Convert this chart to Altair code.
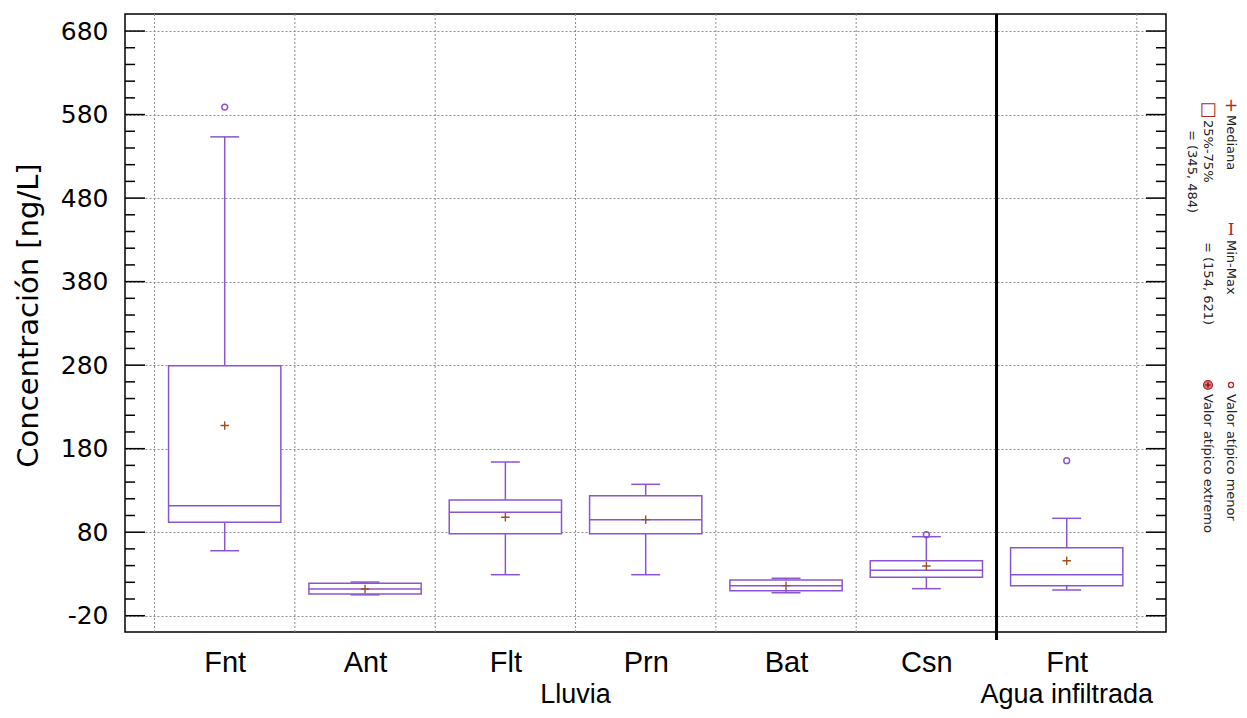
import altair as alt
import pandas as pd

# ---------------- data ----------------
categories = ["Fnt", "Ant", "Flt", "Prn", "Bat", "Csn", "Fnt"]
groups = ["Lluvia", "Lluvia", "Lluvia", "Lluvia", "Lluvia", "Lluvia", "Agua infiltrada"]
positions = [1, 2, 3, 4, 5, 6, 7]
minimum = [57.8, 5.0, 29.1, 29.1, 7.5, 12.4, 10.8]
q1 = [92.0, 6.0, 78.2, 78.2, 10.0, 26.0, 15.9]
median = [111.8, 12.0, 103.8, 95.0, 16.0, 34.3, 29.1]
q3 = [279.2, 19.0, 118.5, 123.7, 22.7, 45.8, 61.4]
maximum = [553.3, 20.3, 164.0, 137.3, 24.8, 74.6, 96.6]
mean = [207.8, 12.0, 97.8, 95.0, 16.0, 39.5, 45.8]
outlier_pos = [1, 6, 7]
outlier_val = [589.0, 77.0, 165.6]

major_ticks = [-20, 80, 180, 280, 380, 480, 580, 680]
minor_ticks = [v for v in range(0, 700, 20) if v not in major_ticks]
gridlines_x = [0.5, 1.5, 2.5, 3.5, 4.5, 5.5, 7.5]
group_boundary = [6.5]

# ---------------- styles / layout ----------------
W, H = 1041, 618
PURPLE = "#8a55d2"
BROWN = "#a0501e"
DARKRED = "#b02828"
GRID = "#8c8c8c"

df = pd.DataFrame({
    "pos": positions, "cat": categories, "group": groups,
    "min": minimum, "q1": q1, "median": median, "q3": q3, "max": maximum, "mean": mean,
})
df_out = pd.DataFrame({"pos": outlier_pos, "val": outlier_val})

x_scale = alt.Scale(domain=[0.2895, 7.7076], nice=False, zero=False)
y_scale = alt.Scale(domain=[-39.5, 700.4], nice=False, zero=False)

label_expr = "[" + ",".join("'%s'" % c for c in categories) + "][datum.value - 1]"
x_axis = alt.Axis(values=positions, labelExpr=label_expr, ticks=False, domain=False, grid=False,
                  title=None, labelFont="Liberation Sans", labelFontSize=29, labelColor="black",
                  labelPadding=16, labelBaseline="top")
y_axis = alt.Axis(values=major_ticks, labelExpr="'' + datum.value", ticks=False, domain=False,
                  grid=True, gridColor=GRID, gridDash=[2, 2], gridWidth=1,
                  labelFont="DejaVu Sans", labelFontSize=25, labelColor="black", labelPadding=17,
                  title="Concentración [ng/L]", titleFont="DejaVu Sans", titleFontSize=29,
                  titleFontWeight="normal", titleColor="black", titleX=-97, titleY=301,
                  titleAngle=-90, titleAlign="center", titleBaseline="middle")


def X(f):
    return alt.X(f, type="quantitative", scale=x_scale, axis=x_axis)


def Y(f):
    return alt.Y(f, type="quantitative", scale=y_scale, axis=y_axis)


base = alt.Chart(df).transform_calculate(
    lo="datum.pos - 0.4", hi="datum.pos + 0.4",
    clo="datum.pos - 0.103", chi="datum.pos + 0.103")

vgrid = alt.Chart(pd.DataFrame({"g": gridlines_x})).mark_rule(
    color=GRID, strokeDash=[2, 2], strokeWidth=1).encode(
    x=X("g"), y=alt.value(0), y2=alt.value(H))

boundary = alt.Chart(pd.DataFrame({"b": group_boundary})).mark_rule(
    color="black", strokeWidth=3).encode(x=X("b"), y=alt.value(0), y2=alt.value(H + 8))

whisk_hi = base.mark_rule(color=PURPLE, strokeWidth=1.5).encode(x=X("pos"), y=Y("q3"), y2="max:Q")
whisk_lo = base.mark_rule(color=PURPLE, strokeWidth=1.5).encode(x=X("pos"), y=Y("min"), y2="q1:Q")
cap_hi = base.mark_rule(color=PURPLE, strokeWidth=1.5).encode(x=X("clo"), x2="chi:Q", y=Y("max"))
cap_lo = base.mark_rule(color=PURPLE, strokeWidth=1.5).encode(x=X("clo"), x2="chi:Q", y=Y("min"))
boxes = base.mark_rect(fill="white", stroke=PURPLE, strokeWidth=1.5).encode(
    x=X("lo"), x2="hi:Q", y=Y("q1"), y2="q3:Q")
med = base.mark_rule(color=PURPLE, strokeWidth=1.5).encode(x=X("lo"), x2="hi:Q", y=Y("median"))
means = base.mark_point(shape="M-1,0H1M0,-1V1", filled=False, stroke=BROWN, strokeWidth=1.4,
                        size=72, opacity=1).encode(x=X("pos"), y=Y("mean"))
outl = alt.Chart(df_out).mark_point(shape="circle", filled=False, stroke=PURPLE, strokeWidth=1.5,
                                    size=34, opacity=1).encode(x=X("pos"), y=Y("val"))

ticks_df_major = pd.DataFrame({"t": major_ticks})
ticks_df_minor = pd.DataFrame({"t": minor_ticks})
tick_layers = []
for tdf, ln in ((ticks_df_major, 20), (ticks_df_minor, 10)):
    tick_layers.append(alt.Chart(tdf).mark_rule(color="black", strokeWidth=1.5).encode(
        y=Y("t"), x=alt.value(0), x2=alt.value(ln)))
    tick_layers.append(alt.Chart(tdf).mark_rule(color="black", strokeWidth=1.5).encode(
        y=Y("t"), x=alt.value(W - ln), x2=alt.value(W)))

group_labels = base.transform_aggregate(center="mean(pos)", groupby=["group"]).mark_text(
    font="Liberation Sans", fontSize=27, baseline="top", color="black").encode(
    x=X("center"), y=alt.value(H + 50), text="group:N")

# ---------------- legend (rotated, right of the plot) ----------------
C1, C2, C3 = 1106, 1083, 1067
legend_texts = [
    ("Mediana", C1, 101),
    ("25%-75%", C2, 106),
    ("= (345, 484)", C3, 116),
    ("Min-Max", C1, 226),
    ("= (154, 621)", C2, 228),
    ("Valor atípico menor", C1, 380),
    ("Valor atípico extremo", C2, 380),
]
legend_layers = []
for txt, lx, ly in legend_texts:
    legend_layers.append(alt.Chart(pd.DataFrame({"t": [txt]})).mark_text(
        angle=90, align="left", baseline="middle", font="DejaVu Sans", fontSize=13,
        color="#222222").encode(text="t:N", x=alt.value(lx), y=alt.value(ly)))

legend_layers.append(alt.Chart(pd.DataFrame({"t": ["+"]})).mark_text(
    align="center", baseline="middle", font="DejaVu Sans", fontSize=17, color=DARKRED
).encode(text="t:N", x=alt.value(C1), y=alt.value(92)))
legend_layers.append(alt.Chart(pd.DataFrame({"t": ["\u25a1"]})).mark_text(
    align="center", baseline="middle", font="DejaVu Sans", fontSize=18, color=DARKRED
).encode(text="t:N", x=alt.value(C2), y=alt.value(96)))
legend_layers.append(alt.Chart(pd.DataFrame({"t": ["I"]})).mark_text(
    align="center", baseline="middle", font="DejaVu Serif", fontSize=17, color=DARKRED
).encode(text="t:N", x=alt.value(C1), y=alt.value(216)))
legend_layers.append(alt.Chart(pd.DataFrame({"t": [0]})).mark_point(
    shape="circle", filled=False, stroke=DARKRED, strokeWidth=1.3, size=26, opacity=1
).encode(x=alt.value(C1), y=alt.value(371)))
legend_layers.append(alt.Chart(pd.DataFrame({"t": [0]})).mark_point(
    shape="circle", filled=True, fill="#e07a7a", stroke=DARKRED, strokeWidth=1.2, size=80, opacity=1
).encode(x=alt.value(C2), y=alt.value(371)))
legend_layers.append(alt.Chart(pd.DataFrame({"t": [0]})).mark_point(
    shape="M-1,0H1M0,-1V1", filled=False, stroke="#7a0000", strokeWidth=1.2, size=30, opacity=1
).encode(x=alt.value(C2), y=alt.value(371)))

chart = alt.layer(
    vgrid, boundary, whisk_hi, whisk_lo, cap_hi, cap_lo, boxes, med, means, outl,
    *tick_layers, group_labels, *legend_layers
).properties(
    width=W, height=H,
    padding={"left": 117, "top": 6, "right": 73, "bottom": 78},
    autosize=alt.AutoSizeParams(type="none"),
).configure_view(stroke="black", strokeWidth=1.5)

chart.save("out.html", embed_options={"renderer": "svg", "actions": False})
